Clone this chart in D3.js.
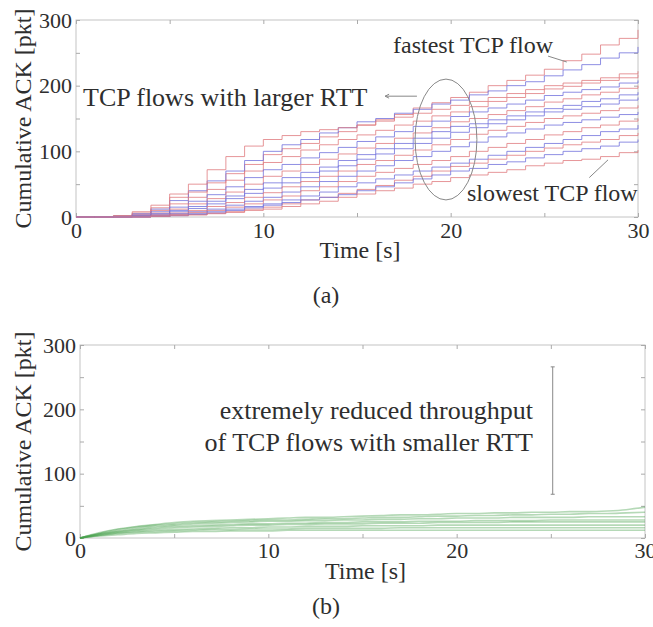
<!DOCTYPE html>
<html>
<head>
<meta charset="utf-8">
<script src="https://cdn.jsdelivr.net/npm/d3@7"></script>
<style>
  body { margin: 0; background: #fff; }
  svg text { font-family: "Liberation Serif", "Times New Roman", "DejaVu Serif", serif; fill: #2e2e2e; }
</style>
</head>
<body>
<script>
var w = 653;
var h = 627;

// time samples [s]
var time = [0,1,2,3,4,5,6,7,8,9,10,11,12,13,14,15,16,17,18,19,20,21,22,23,24,25,26,27,28,29,30];

// (a) cumulative ACK of TCP flows with larger RTT [pkt]
var flowsA = [
  { color: 'red',  v: [0,0,2,6,14,30,38,52,66,80,95,104,112,122,130,140,148,156,166,174,182,190,200,208,216,225,238,248,262,272,285] },
  { color: 'blue', v: [0,0,1,5,12,25,40,55,70,86,100,110,118,128,136,145,150,158,164,172,178,186,192,200,206,215,224,232,242,250,259] },
  { color: 'red',  v: [0,0,2,8,18,35,50,72,92,108,118,124,130,133,136,140,146,152,158,164,170,176,182,188,194,200,204,208,212,218,222] },
  { color: 'red',  v: [0,0,1,4,10,20,30,42,56,70,83,92,102,110,118,125,132,140,146,154,160,168,176,182,188,195,199,204,208,212,217] },
  { color: 'blue', v: [0,0,1,3,8,15,24,34,46,60,72,80,90,98,106,115,122,130,138,146,153,160,166,172,178,185,190,194,198,204,208] },
  { color: 'red',  v: [0,0,1,2,6,12,20,28,38,50,62,70,80,88,96,105,112,120,128,136,145,150,156,162,168,175,180,186,190,196,200] },
  { color: 'blue', v: [0,0,0,2,5,10,16,24,32,42,52,60,68,76,86,95,104,112,120,130,138,142,148,154,160,165,170,176,180,186,190] },
  { color: 'blue', v: [0,0,0,1,4,8,13,20,28,36,44,52,60,70,78,88,96,104,112,120,129,136,142,148,154,160,164,168,172,178,182] },
  { color: 'red',  v: [0,0,0,1,3,6,10,16,22,30,37,46,54,62,70,80,86,94,102,110,118,126,132,138,144,150,154,158,162,166,170] },
  { color: 'blue', v: [0,0,0,1,2,5,8,12,18,24,30,38,46,54,62,70,78,86,92,100,107,114,122,128,134,140,144,148,152,156,160] },
  { color: 'red',  v: [0,0,0,1,2,4,7,10,15,20,26,32,40,46,54,62,68,74,80,86,92,100,106,112,118,125,130,136,140,146,150] },
  { color: 'blue', v: [0,0,0,0,1,3,5,8,12,16,20,26,32,38,46,52,58,64,70,76,82,88,94,100,106,112,118,124,130,134,140] },
  { color: 'red',  v: [0,0,0,0,1,3,4,6,8,12,15,20,26,30,36,42,48,56,62,70,77,82,88,94,100,105,110,114,118,124,128] },
  { color: 'blue', v: [0,0,0,0,1,2,4,6,10,14,18,22,26,30,34,40,46,52,58,64,70,74,80,84,90,95,100,104,108,114,118] },
  { color: 'red',  v: [0,0,0,0,1,2,3,5,7,10,12,16,20,24,30,35,40,44,50,54,60,64,68,72,78,82,86,88,92,98,102] }
];

// (b) cumulative ACK of TCP flows with smaller RTT [pkt]
var flowsB = [
  [0,8,14,18,21,24,26,27,28,29,30,31,32,32,33,34,35,36,36,37,38,38,39,39,40,40,41,41,42,44,48],
  [0,7,13,17,20,22,24,25,26,27,28,28,29,30,30,31,32,32,33,34,34,35,35,36,36,37,37,38,38,39,40],
  [0,6,11,15,18,20,22,23,24,25,26,26,27,27,28,28,29,29,30,30,31,31,31,32,32,32,32,33,33,33,33],
  [0,6,10,13,16,18,19,20,21,22,22,23,23,24,24,25,25,25,26,26,26,27,27,27,27,28,28,28,28,28,28],
  [0,5,9,12,14,16,17,18,19,20,20,21,21,22,22,22,23,23,23,24,24,24,24,25,25,25,25,25,25,25,25],
  [0,4,8,10,12,13,14,15,16,16,17,17,18,18,18,19,19,19,19,20,20,20,20,20,20,20,20,20,20,20,20],
  [0,4,7,9,10,11,12,13,13,14,14,14,15,15,15,15,15,16,16,16,16,16,16,16,16,16,16,16,16,16,16],
  [0,3,5,7,8,9,10,10,11,11,11,12,12,12,12,12,12,12,12,12,12,12,12,12,12,12,12,12,12,12,12]
];

var xTicks = [0,5,10,15,20,25,30];
var yTicks = [0,50,100,150,200,250,300];
var lineColors = { red: '#e07c80', blue: '#7272dc' };

var svg = d3.select('body')
  .append('svg')
  .attr('width', w)
  .attr('height', h);

function panel(box) {
  var x = d3.scaleLinear().domain([0, 30]).range([box.left, box.right]);
  var y = d3.scaleLinear().domain([0, 300]).range([box.bottom, box.top]);
  var g = svg.append('g');

  g.append('rect')
    .attr('x', box.left).attr('y', box.top)
    .attr('width', box.right - box.left).attr('height', box.bottom - box.top)
    .attr('fill', 'none').attr('stroke', '#c4c4c4').attr('stroke-width', 1);

  var fmtX = function(d) { return d % 10 === 0 ? d : ''; };
  var fmtY = function(d) { return d % 100 === 0 ? d : ''; };

  var ax = [
    g.append('g').attr('transform', 'translate(0,' + box.bottom + ')')
      .call(d3.axisBottom(x).tickValues(xTicks).tickFormat(fmtX).tickSize(-4).tickPadding(box.padX)),
    g.append('g').attr('transform', 'translate(0,' + box.top + ')')
      .call(d3.axisTop(x).tickValues(xTicks).tickFormat('').tickSize(-4)),
    g.append('g').attr('transform', 'translate(' + box.left + ',0)')
      .call(d3.axisLeft(y).tickValues(yTicks).tickFormat(fmtY).tickSize(-4).tickPadding(4)),
    g.append('g').attr('transform', 'translate(' + box.right + ',0)')
      .call(d3.axisRight(y).tickValues(yTicks).tickFormat('').tickSize(-4))
  ];
  ax.forEach(function(a) {
    a.select('.domain').remove();
    a.selectAll('line').attr('stroke', '#aaa');
    a.selectAll('text').style('font-size', '22px').attr('fill', '#2e2e2e');
  });

  svg.append('text')
    .attr('transform', 'translate(' + box.ylabX + ',' + ((box.top + box.bottom) / 2) + ') rotate(-90)')
    .attr('text-anchor', 'middle')
    .style('font-size', '24px')
    .text('Cumulative ACK [pkt]');

  svg.append('text')
    .attr('x', (box.left + box.right) / 2 + 3)
    .attr('y', box.bottom + 41)
    .attr('text-anchor', 'middle')
    .style('font-size', '24px')
    .text('Time [s]');

  svg.append('text')
    .attr('x', 326)
    .attr('y', box.bottom + box.capY)
    .attr('text-anchor', 'middle')
    .style('font-size', '24px')
    .text(box.caption);

  return { x: x, y: y, g: g };
}

// ---- (a)
var A = panel({ left: 76, right: 638, top: 20, bottom: 217, padX: 5, ylabX: 31, capY: 86, caption: '(a)' });

var stepLine = d3.line()
  .x(function(d, i) { return A.x(time[i]); })
  .y(function(d) { return A.y(d); })
  .curve(d3.curveStepAfter);

A.g.selectAll('path.flow')
  .data(flowsA)
  .enter()
  .append('path')
  .attr('class', 'flow')
  .attr('d', function(d) { return stepLine(d.v); })
  .attr('fill', 'none')
  .attr('stroke', function(d) { return lineColors[d.color]; })
  .attr('stroke-width', 1)
  .attr('stroke-opacity', 0.8);

var noteA = A.g.append('g').attr('stroke', '#888').attr('fill', 'none').attr('stroke-width', 1);
noteA.append('ellipse')
  .attr('cx', A.x(19.75)).attr('cy', A.y(118))
  .attr('rx', A.x(1.65) - A.x(0)).attr('ry', A.y(0) - A.y(92));
noteA.append('line')
  .attr('x1', A.x(16.5)).attr('y1', A.y(184)).attr('x2', A.x(18.2)).attr('y2', A.y(184));
noteA.append('path')
  .attr('d', 'M' + (A.x(16.5) + 4) + ',' + (A.y(184) - 2) + 'L' + A.x(16.5) + ',' + A.y(184) + 'L' + (A.x(16.5) + 4) + ',' + (A.y(184) + 2));
noteA.append('line')
  .attr('x1', A.x(25.2)).attr('y1', A.y(245)).attr('x2', A.x(26.2)).attr('y2', A.y(236));
noteA.append('line')
  .attr('x1', A.x(27.4)).attr('y1', A.y(60)).attr('x2', A.x(28.4)).attr('y2', A.y(87));

A.g.append('text').attr('x', 83).attr('y', 106).style('font-size', '26px').text('TCP flows with larger RTT');
A.g.append('text').attr('x', 393).attr('y', 53).style('font-size', '24px').text('fastest TCP flow');
A.g.append('text').attr('x', 467).attr('y', 201).style('font-size', '24px').text('slowest TCP flow');

// ---- (b)
var B = panel({ left: 80, right: 645, top: 345, bottom: 538, padX: 4, ylabX: 31, capY: 76, caption: '(b)' });

var smoothLine = d3.line()
  .x(function(d, i) { return B.x(time[i]); })
  .y(function(d) { return B.y(d); })
  .curve(d3.curveMonotoneX);

B.g.selectAll('path.flow')
  .data(flowsB)
  .enter()
  .append('path')
  .attr('class', 'flow')
  .attr('d', smoothLine)
  .attr('fill', 'none')
  .attr('stroke', '#46a04c')
  .attr('stroke-width', 1.6)
  .attr('stroke-opacity', 0.4);

var noteB = B.g.append('g').attr('stroke', '#888').attr('stroke-width', 1);
noteB.append('line')
  .attr('x1', B.x(25.1)).attr('y1', B.y(266)).attr('x2', B.x(25.1)).attr('y2', B.y(68));
[266, 68].forEach(function(v) {
  noteB.append('line')
    .attr('x1', B.x(25.1) - 2).attr('x2', B.x(25.1) + 2)
    .attr('y1', B.y(v)).attr('y2', B.y(v));
});

B.g.append('text').attr('x', 533).attr('y', 419).attr('text-anchor', 'end').style('font-size', '26px').text('extremely reduced throughput');
B.g.append('text').attr('x', 533).attr('y', 451).attr('text-anchor', 'end').style('font-size', '26px').text('of TCP flows with smaller RTT');
</script>
</body>
</html>
